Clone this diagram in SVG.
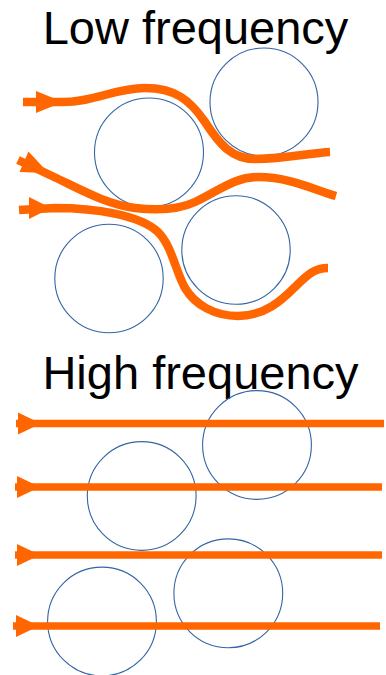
<svg xmlns="http://www.w3.org/2000/svg" width="386" height="675" viewBox="0 0 386 675">
<style>
.title{font-family:"Liberation Sans",Arial,sans-serif;font-size:47px;fill:#000;text-anchor:middle}
.grain{fill:none;stroke:#3465a4;stroke-width:1.1}
.flow{fill:none;stroke:#ff6600;stroke-width:8.5;stroke-linecap:butt;stroke-linejoin:round}
.flowh{fill:none;stroke:#ff6600;stroke-width:7.5}
.head{fill:#ff6600}
</style>
<rect width="386" height="675" fill="#fff"/>
<g id="title-low"><text class="title" x="195.5" y="44">Low frequency</text></g>
<g id="title-high"><text class="title" x="200.5" y="389">High frequency</text></g>

<g id="low-grain-1"><circle class="grain" cx="264" cy="102" r="54"/></g>
<g id="low-grain-2"><circle class="grain" cx="149" cy="152.5" r="54.5"/></g>
<g id="low-grain-3"><circle class="grain" cx="236" cy="250" r="54.2"/></g>
<g id="low-grain-4"><circle class="grain" cx="109" cy="278.5" r="54.2"/></g>

<g id="high-grain-1"><circle class="grain" cx="257" cy="445" r="54.4"/></g>
<g id="high-grain-2"><circle class="grain" cx="141.7" cy="496" r="54.4"/></g>
<g id="high-grain-3"><circle class="grain" cx="228.3" cy="593.3" r="54.4"/></g>
<g id="high-grain-4"><circle class="grain" cx="102" cy="621.5" r="54.4"/></g>

<g id="connectors">
<path class="flow" d="M23,102 L62,102 C95,102 115,88 145,88 C175,88 190,100 205,122 C220,145 232,159 255,159 C285,159 310,153 330,152"/>
<polygon class="head" points="36,91 36,113 63,102"/>
<path class="flow" d="M18,160 L52,176 C80,189 105,204 135,208 C160,211 180,209 195,202 C220,190 235,177 258,177 C290,177 315,190 336,196"/>
<polygon class="head" points="28.5,151.5 19.5,172 48.5,173"/>
<path class="flow" d="M19,210 L55,208 C95,208 140,215 158,232 C172,246 175,270 185,288 C195,305 215,316 238,316 C265,316 282,300 295,287 C308,274 315,268 328,268"/>
<polygon class="head" points="29,197 29,219 51,208"/>

<path class="flowh" d="M16,423.5 H384"/>
<polygon class="head" points="18,412.5 18,434.5 41,423.5"/>
<path class="flowh" d="M15,487 H382"/>
<polygon class="head" points="17,476 17,498 40,487"/>
<path class="flowh" d="M15,555 H382"/>
<polygon class="head" points="17,544 17,566 40,555"/>
<path class="flowh" d="M13,626 H380"/>
<polygon class="head" points="16,615 16,637 39,626"/>
</g>
</svg>
